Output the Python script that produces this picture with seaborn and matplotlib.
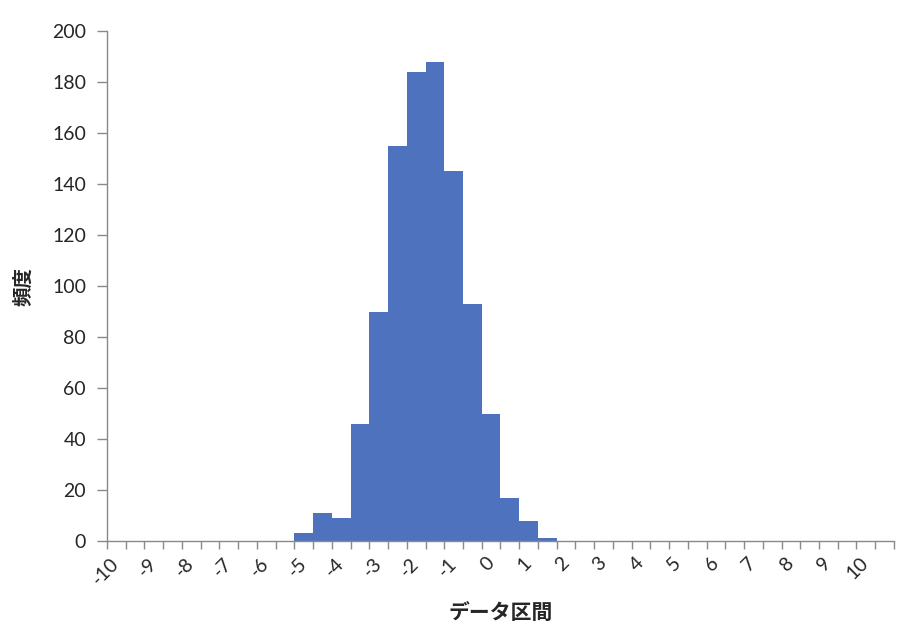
import numpy as np
import pandas as pd
import matplotlib
matplotlib.use("Agg")
import matplotlib.pyplot as plt
import seaborn as sns

sns.set_style("white")
plt.rcParams['font.family'] = ['Lato', 'Noto Sans CJK JP', 'DejaVu Sans']

# bins of the histogram (Excel style data intervals)
bins = ["-10", "-9.5", "-9", "-8.5", "-8", "-7.5", "-7", "-6.5", "-6", "-5.5",
        "-5", "-4.5", "-4", "-3.5", "-3", "-2.5", "-2", "-1.5", "-1", "-0.5",
        "0", "0.5", "1", "1.5", "2", "2.5", "3", "3.5", "4", "4.5",
        "5", "5.5", "6", "6.5", "7", "7.5", "8", "8.5", "9", "9.5",
        "10", "10.5"]
counts = [0, 0, 0, 0, 0, 0, 0, 0, 0, 0,
          3, 11, 9, 46, 90, 155, 184, 188, 145, 93,
          50, 17, 8, 1, 0, 0, 0, 0, 0, 0,
          0, 0, 0, 0, 0, 0, 0, 0, 0, 0,
          0, 0]
tick_labels = ["-10", "-9", "-8", "-7", "-6", "-5", "-4", "-3", "-2", "-1", "0",
               "1", "2", "3", "4", "5", "6", "7", "8", "9", "10"]

df = pd.DataFrame({"bin": bins, "count": counts})

fig = plt.figure(figsize=(9.22, 6.38), dpi=100)
ax = fig.add_axes([0.116, 0.152, 0.8536, 0.7994])

sns.barplot(data=df, x="bin", y="count", color="#4F72BE", saturation=1,
            width=1.0, linewidth=0, ax=ax)

ax.set_xlim(-0.5, len(bins) - 0.5)
ax.set_ylim(0, 200)
ax.set_yticks(range(0, 201, 20))
ax.tick_params(axis="y", labelsize=14, length=7, width=1, color="#898989",
               direction="out", pad=8, left=True)

# labels on every second category, tick marks between categories
ax.set_xticks(range(0, len(bins), 2))
ax.set_xticklabels(tick_labels, rotation=45, ha="right", va="center",
                   rotation_mode="anchor")
ax.set_xticks(np.arange(-0.5, len(bins), 1.0), minor=True)
ax.tick_params(axis="x", which="major", length=0, labelsize=14, pad=14)
ax.tick_params(axis="x", which="minor", length=6, width=1, color="#898989",
               direction="out", bottom=True)

for s in ["top", "right"]:
    ax.spines[s].set_visible(False)
for s in ["left", "bottom"]:
    ax.spines[s].set_color("#898989")
    ax.spines[s].set_linewidth(1)

ax.set_xlabel("データ区間", fontsize=15, fontweight="bold",
              family=['Noto Sans CJK JP'])
ax.set_ylabel("頻度", fontsize=14, fontweight="bold",
              family=['Noto Sans CJK JP'])
ax.xaxis.set_label_coords(0.5, -0.12)
ax.yaxis.set_label_coords(-0.093, 0.5)

fig.savefig("out.png", dpi=100)
